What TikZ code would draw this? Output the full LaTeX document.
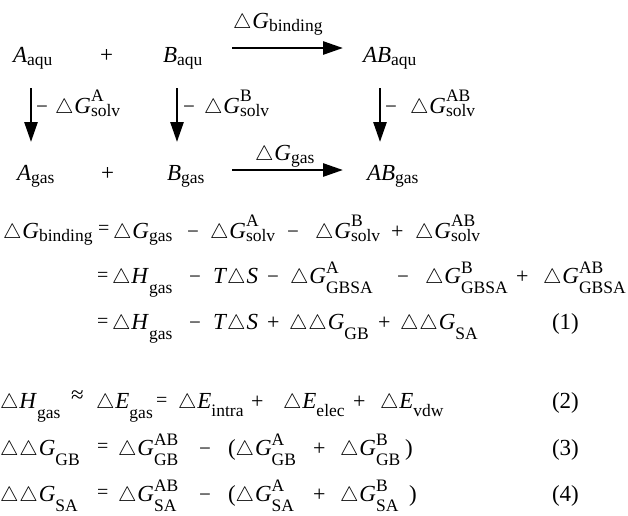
\documentclass[tikz,border=0pt]{standalone}
\usepackage{fontspec}
\setmainfont{Liberation Serif}
\usetikzlibrary{arrows.meta}
\newcommand{\sz}{\fontsize{17.5}{18}\selectfont}
\newcommand{\tri}{{\fontsize{21}{21}\selectfont$\triangle$}\kern1pt}
\newcommand{\Sb}[2][0.14em]{\raisebox{-#1}{\sz #2}}
\newlength\spw \newlength\sbw
\newcommand{\SpSb}[4][0.14em]{\settowidth\spw{\sz #3}\settowidth\sbw{\sz #4}\ifdim\sbw<\spw\sbw=\spw\fi\makebox[\sbw][l]{\rlap{\raisebox{#2}{\sz #3}}\raisebox{-#1}{\sz #4}}}
\newcommand{\Gi}{\textit{G}}
\newcommand{\Lo}{0.46em}
\newcommand{\mn}{{\fontsize{21}{21}\selectfont −}}
\newcommand{\pl}{{\fontsize{22}{22}\selectfont +}}
\newcommand{\eqs}{{\fontsize{20}{20}\selectfont =}}
\begin{document}
\begin{tikzpicture}[x=1pt,y=-1pt,
  t/.style={inner sep=0pt, outer sep=0pt, anchor=base west, font=\fontsize{23}{27}\selectfont},
  arr/.style={line width=2.7pt, -{Triangle[length=20pt,width=13pt]}}]
\path[use as bounding box] (0,0) rectangle (628,515);
% ---------- scheme ----------
\node[t] (Aaqu) at (13,62) {\textit{A}\Sb{aqu}};
\node[t] (p1) at (100,62) {+};
\node[t] (Baqu) at (163,62) {\textit{B}\Sb{aqu}};
\node[t] (ABaqu) at (363,62) {\textit{AB}\Sb{aqu}};
\node[t] (Agas) at (17,180) {\textit{A}\Sb{gas}};
\node[t] (p2) at (101,180) {+};
\node[t] (Bgas) at (167,180) {\textit{B}\Sb{gas}};
\node[t] (ABgas) at (367,180) {\textit{AB}\Sb{gas}};
\node[t] (lbind) at (233,28) {\tri\Gi\Sb{binding}};
\node[t] (lgasr) at (255,160) {\tri\Gi\Sb{gas}};
\node[t] (mA) at (36,113) {\mn};
\node[t] (lA) at (55,113) {\tri\Gi\SpSb{0.52em}{A}{solv}};
\node[t] (mB) at (183,113) {\mn};
\node[t] (lB) at (204,113) {\tri\Gi\SpSb{0.52em}{B}{solv}};
\node[t] (mC) at (385,113) {\mn};
\node[t] (lC) at (410,113) {\tri\Gi\SpSb{0.52em}{AB}{solv}};
\coordinate (h1s) at (232,48); \coordinate (h1e) at (343,48);
\coordinate (h2s) at (232,170); \coordinate (h2e) at (343,170);
\coordinate (v1s) at (31,88); \coordinate (v1e) at (31,142);
\coordinate (v2s) at (177,88); \coordinate (v2e) at (177,142);
\coordinate (v3s) at (380,88); \coordinate (v3e) at (380,142);
\draw[arr] (h1s) -- (h1e);
\draw[arr] (h2s) -- (h2e);
\draw[arr] (v1s) -- (v1e);
\draw[arr] (v2s) -- (v2e);
\draw[arr] (v3s) -- (v3e);
% ---------- equation (1), line 1 ----------
\node[t] (a1) at (3,238) {\tri\Gi\Sb{binding}};
\node[t] (a2) at (98,234) {\eqs};
\node[t] (a3) at (113,238) {\tri\Gi\Sb{gas}};
\node[t] (a4) at (187,238) {\mn};
\node[t] (a5) at (210,238) {\tri\Gi\SpSb{0.52em}{A}{solv}};
\node[t] (a6) at (287,238) {\mn};
\node[t] (a7) at (315,238) {\tri\Gi\SpSb{0.52em}{B}{solv}};
\node[t] (a8) at (391,238) {\pl};
\node[t] (a9) at (415,238) {\tri\Gi\SpSb{0.52em}{AB}{solv}};
% line 2
\node[t] (b1) at (97,281) {\eqs};
\node[t] (b2) at (112,283) {\tri\textit{H}\Sb[\Lo]{gas}};
\node[t] (b3) at (189,283) {\mn};
\node[t] (b4) at (213,283) {\textit{T}\tri\textit{S}};
\node[t] (b5) at (267,283) {\mn};
\node[t] (b6) at (290,283) {\tri\Gi\SpSb[\Lo]{0.42em}{A}{GBSA}};
\node[t] (b7) at (397,283) {\mn};
\node[t] (b8) at (425,283) {\tri\Gi\SpSb[\Lo]{0.42em}{B}{GBSA}};
\node[t] (b9) at (516,283) {\pl};
\node[t] (b10) at (543,283) {\tri\Gi\SpSb[\Lo]{0.42em}{AB}{GBSA}};
% line 3
\node[t] (c1) at (97,327) {\eqs};
\node[t] (c2) at (112,329) {\tri\textit{H}\Sb[\Lo]{gas}};
\node[t] (c3) at (189,329) {\mn};
\node[t] (c4) at (213,329) {\textit{T}\tri\textit{S}};
\node[t] (c5) at (267,329) {\pl};
\node[t] (c6) at (289,329) {\tri\tri\Gi\Sb[\Lo]{GB}};
\node[t] (c7) at (378,329) {\pl};
\node[t] (c8) at (400,329) {\tri\tri\Gi\Sb[\Lo]{SA}};
\node[t] (c9) at (552,329) {(1)};
% ---------- equation (2) ----------
\node[t] (d1) at (0,408) {\tri\textit{H}\Sb[\Lo]{gas}};
\node[t] (d2) at (71,402) {{\fontsize{23}{23}\selectfont ≈}};
\node[t] (d3) at (96,408) {\tri\textit{E}\Sb[\Lo]{gas}};
\node[t] (d4) at (156,406) {\eqs};
\node[t] (d5) at (178,408) {\tri\textit{E}\Sb[0.38em]{intra}};
\node[t] (d6) at (251,408) {\pl};
\node[t] (d7) at (283,408) {\tri\textit{E}\Sb[0.38em]{elec}};
\node[t] (d8) at (353,408) {\pl};
\node[t] (d9) at (380,408) {\tri\textit{E}\Sb[0.38em]{vdw}};
\node[t] (d10) at (552,408) {(2)};
% ---------- equation (3) ----------
\node[t] (e1) at (0,455) {\tri\tri\Gi\Sb[\Lo]{GB}};
\node[t] (e2) at (97,452) {\eqs};
\node[t] (e3) at (118,455) {\tri\Gi\SpSb[\Lo]{0.42em}{AB}{GB}};
\node[t] (e4) at (199,455) {\mn};
\node[t] (e5) at (228,455) {(\tri\Gi\SpSb[\Lo]{0.42em}{A}{GB}};
\node[t] (e6) at (313,455) {\pl};
\node[t] (e7) at (340,455) {\tri\Gi\SpSb[\Lo]{0.42em}{B}{GB}};
\node[t] (e8) at (405,455) {)};
\node[t] (e9) at (552,455) {(3)};
% ---------- equation (4) ----------
\node[t] (f1) at (0,501) {\tri\tri\Gi\Sb[\Lo]{SA}};
\node[t] (f2) at (97,498) {\eqs};
\node[t] (f3) at (118,501) {\tri\Gi\SpSb[\Lo]{0.42em}{AB}{SA}};
\node[t] (f4) at (199,501) {\mn};
\node[t] (f5) at (228,501) {(\tri\Gi\SpSb[\Lo]{0.42em}{A}{SA}};
\node[t] (f6) at (313,501) {\pl};
\node[t] (f7) at (340,501) {\tri\Gi\SpSb[\Lo]{0.42em}{B}{SA}};
\node[t] (f8) at (409,501) {)};
\node[t] (f9) at (552,501) {(4)};
\end{tikzpicture}
\end{document}
